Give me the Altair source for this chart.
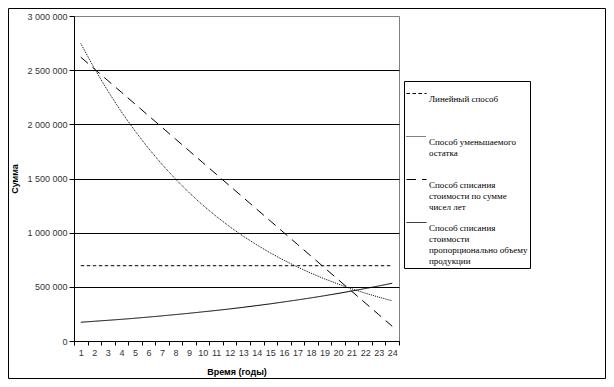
import altair as alt
import pandas as pd

# ---- data ----
years = list(range(1, 25))

series_keys = ["linear", "declining", "syd", "production"]
series_labels = [
    ["Линейный способ", "", ""],
    ["Способ уменьшаемого", "остатка", ""],
    ["Способ списания", "стоимости по сумме", "чисел лет"],
    ["Способ списания", "стоимости", "пропорционально объему", "продукции"],
]

linear = [695000, 695000, 695000, 695000, 695000, 695000, 695000, 695000,
          695000, 695000, 695000, 695000, 695000, 695000, 695000, 695000,
          695000, 695000, 695000, 695000, 695000, 695000, 695000, 695000]
declining = [2746000, 2517000, 2308000, 2115000, 1939000, 1778000, 1630000, 1494000,
             1369000, 1255000, 1151000, 1055000, 967000, 887000, 813000, 745000,
             683000, 626000, 574000, 526000, 482000, 442000, 405000, 371000]
syd = [2620000, 2512000, 2404000, 2296000, 2188000, 2080000, 1972000, 1864000,
       1756000, 1648000, 1540000, 1432000, 1324000, 1216000, 1108000, 1000000,
       892000, 784000, 676000, 568000, 460000, 352000, 244000, 136000]
production = [173000, 182000, 191000, 200000, 210000, 221000, 232000, 244000,
              256000, 269000, 282000, 296000, 311000, 327000, 343000, 361000,
              379000, 398000, 418000, 439000, 461000, 484000, 508000, 533000]

y_ticks = [0, 500000, 1000000, 1500000, 2000000, 2500000, 3000000]

# ---- build table ----
rows = []
for key, vals in zip(series_keys, [linear, declining, syd, production]):
    for yr, v in zip(years, vals):
        rows.append({"year": yr, "series": key, "value": v})
df = pd.DataFrame(rows)

def js_arr(lines):
    return "[" + ", ".join("'" + s + "'" for s in lines) + "]"

label_expr = ""
for key, lines in zip(series_keys[:-1], series_labels[:-1]):
    label_expr += f"datum.value == '{key}' ? {js_arr(lines)} : "
label_expr += js_arr(series_labels[-1])

dash_range = [[3.5, 2.5], [1, 1], [9.5, 6], [1, 0]]
width_range = [1, 1, 2, 1.4]

legend = alt.Legend(
    title=None, orient="none", legendX=330, legendY=65,
    strokeColor="black", padding=2,
    symbolType="stroke", symbolSize=400, symbolStrokeColor="black",
    labelFont="Liberation Serif", labelFontSize=9, labelColor="black",
    labelBaseline="line-top", labelLimit=220, labelOffset=2,
    rowPadding=0, labelExpr=label_expr,
)

x_enc = alt.X(
    "year:O",
    scale=alt.Scale(type="band", paddingInner=0, paddingOuter=0),
    bandPosition=0.5,
    axis=alt.Axis(
        title="Время (годы)", labelAngle=0, tickBand="extent", tickSize=4,
        tickColor="black", domainColor="black", labelFont="Liberation Sans",
        labelFontSize=9, labelColor="#333333", labelPadding=3, grid=False,
        titleFont="Liberation Sans", titleFontSize=9, titleFontWeight="bold",
        titleColor="black", titlePadding=10,
    ),
)

y_enc = alt.Y(
    "value:Q",
    scale=alt.Scale(domain=[0, 3000000], nice=False),
    axis=alt.Axis(
        values=y_ticks,
        labelExpr="replace(format(datum.value, ','), regexp(',', 'g'), ' ')",
        labelFont="Liberation Sans", labelFontSize=9, labelColor="#333333",
        labelPadding=2, tickSize=5, tickColor="black", domainColor="black",
        grid=True, gridWidth=1,
        gridColor={"condition": {"test": "datum.value >= 3000000", "value": "#808080"},
                   "value": "black"},
        title="Сумма", titleFont="Liberation Sans", titleFontSize=9,
        titleFontWeight="bold", titleColor="black", titlePadding=7,
    ),
)

lines = alt.Chart(df).mark_line(color="black").encode(
    x=x_enc,
    y=y_enc,
    detail="series:N",
    strokeDash=alt.StrokeDash("series:N", scale=alt.Scale(domain=series_keys, range=dash_range), legend=legend),
    strokeWidth=alt.StrokeWidth("series:N", scale=alt.Scale(domain=series_keys, range=width_range), legend=legend),
)

frame = alt.Chart(alt.Data(values=[{"k": 1}])).mark_rect(
    filled=False, stroke="black", strokeWidth=1
).encode(
    x=alt.value(-65.5), x2=alt.value(531.5), y=alt.value(-7.5), y2=alt.value(362.5)
)

chart = alt.layer(lines, frame).properties(
    width=325, height=325,
    autosize=alt.AutoSizeParams(type="none"),
    padding={"left": 66, "top": 8, "right": 207, "bottom": 38},
).configure_view(stroke="#808080", strokeWidth=1)

chart.save("out.html", embed_options={"renderer": "svg", "actions": False})
